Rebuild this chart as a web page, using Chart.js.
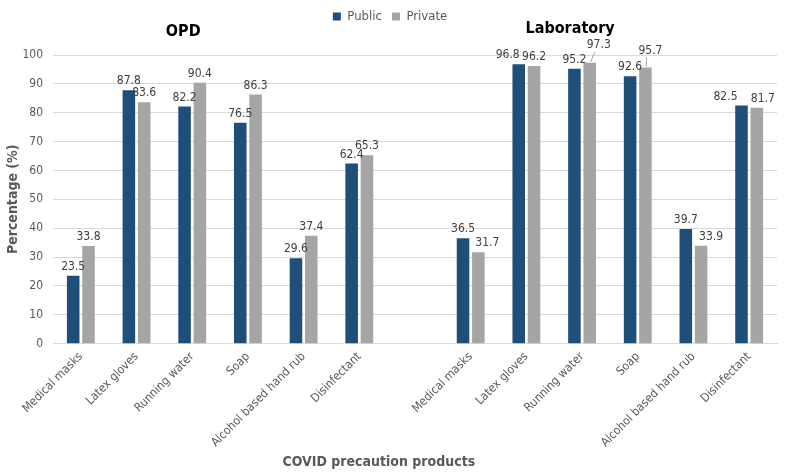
<!DOCTYPE html>
<html>
<head>
<meta charset="utf-8">
<script src="https://cdn.jsdelivr.net/npm/chart.js@4/dist/chart.umd.min.js"></script>
<style>
html,body{margin:0;padding:0;background:#fff;}
#wrap{width:788px;height:475px;position:relative;}
</style>
</head>
<body>
<div id="wrap"><canvas id="c" width="788" height="475"></canvas></div>
<script>
const categories = ['Medical masks','Latex gloves','Running water','Soap','Alcohol based hand rub','Disinfectant','',
  'Medical masks','Latex gloves','Running water','Soap','Alcohol based hand rub','Disinfectant'];
const publicValues  = [23.5, 87.8, 82.2, 76.5, 29.6, 62.4, null, 36.5, 96.8, 95.2, 92.6, 39.7, 82.5];
const privateValues = [33.8, 83.6, 90.4, 86.3, 37.4, 65.3, null, 31.7, 96.2, 97.3, 95.7, 33.9, 81.7];
const seriesNames = ['Public', 'Private'];
const groupTitles = ['OPD', 'Laboratory'];
const yMin = 0, yMax = 100, yStep = 10;
const yAxisTitle = 'Percentage (%)';
const xAxisTitle = 'COVID precaution products';

const FONT = '"DejaVu Sans Condensed", "DejaVu Sans", sans-serif';

// label nudges (dataset-index) -> [dx, dy, leader]
const nudges = {
  '0-8': [-11, 0, false], '0-12': [-16, 0, false],
  '1-7': [9, 0, false], '1-9': [9, -9, true], '1-10': [5, -8, true],
  '1-11': [10, 0, false], '1-12': [6, 0, false]
};

const labelPlugin = {
  id: 'valueLabels',
  afterInit(chart) {
    const lg = chart.legend;
    if (lg) {
      const fit = lg.fit;
      lg.fit = function () { fit.call(this); this.height += 22; };
    }
  },
  afterDatasetsDraw(chart) {
    const ctx = chart.ctx;
    ctx.save();
    ctx.font = '12px ' + FONT;
    ctx.fillStyle = '#404040';
    ctx.textAlign = 'center';
    ctx.textBaseline = 'bottom';
    chart.data.datasets.forEach((ds, di) => {
      const meta = chart.getDatasetMeta(di);
      meta.data.forEach((bar, i) => {
        const v = ds.data[i];
        if (v === null || v === undefined) return;
        const n = nudges[di + '-' + i] || [0, 0, false];
        const x = bar.x + n[0], y = bar.y - 3 + n[1];
        ctx.fillText(v.toFixed(1), x, y);
        if (n[2]) {
          ctx.strokeStyle = '#a6a6a6';
          ctx.lineWidth = 1;
          ctx.beginPath();
          ctx.moveTo(bar.x + 1, bar.y - 1);
          ctx.lineTo(x - 4, y + 1);
          ctx.stroke();
        }
      });
    });
    const xs = chart.scales.x;
    ctx.font = 'bold 16px ' + FONT;
    ctx.fillStyle = '#000';
    ctx.textBaseline = 'middle';
    ctx.fillText(groupTitles[0], xs.getPixelForValue(2) - 9, 32);
    ctx.fillText(groupTitles[1], xs.getPixelForValue(9) - 12, 29);
    ctx.font = 'bold 14px ' + FONT;
    ctx.fillStyle = '#595959';
    const ca = chart.chartArea;
    ctx.fillText(xAxisTitle, ca.left + (ca.right - ca.left) * 0.45, 462);
    ctx.restore();
  }
};

new Chart(document.getElementById('c'), {
  type: 'bar',
  data: {
    labels: categories,
    datasets: [
      {label: seriesNames[0], data: publicValues, backgroundColor: '#1F4E79', barPercentage: 0.82, categoryPercentage: 0.55},
      {label: seriesNames[1], data: privateValues, backgroundColor: '#A5A5A5', barPercentage: 0.82, categoryPercentage: 0.55}
    ]
  },
  options: {
    responsive: false,
    animation: false,
    devicePixelRatio: 1,
    layout: {padding: {left: 3, right: 11, top: 0, bottom: 19}},
    plugins: {
      legend: {
        position: 'top',
        labels: {boxWidth: 8, boxHeight: 8, padding: 10, color: '#595959', font: {size: 13, family: FONT}}
      },
      tooltip: {enabled: false},
      title: {display: false}
    },
    scales: {
      x: {
        grid: {display: false, drawTicks: false},
        border: {color: '#d9d9d9'},
        ticks: {color: '#595959', font: {size: 12, family: FONT}, minRotation: 45, maxRotation: 45, autoSkip: false, padding: 6}
      },
      y: {
        min: yMin, max: yMax,
        afterFit(s) { s.width = 50; },
        ticks: {stepSize: yStep, color: '#595959', font: {size: 12, family: FONT}, padding: 10},
        grid: {color: '#d9d9d9', drawTicks: false},
        border: {display: false},
        title: {display: true, text: yAxisTitle, color: '#595959', font: {size: 14, weight: 'bold', family: FONT}, padding: 2}
      }
    }
  },
  plugins: [labelPlugin]
});
</script>
</body>
</html>
